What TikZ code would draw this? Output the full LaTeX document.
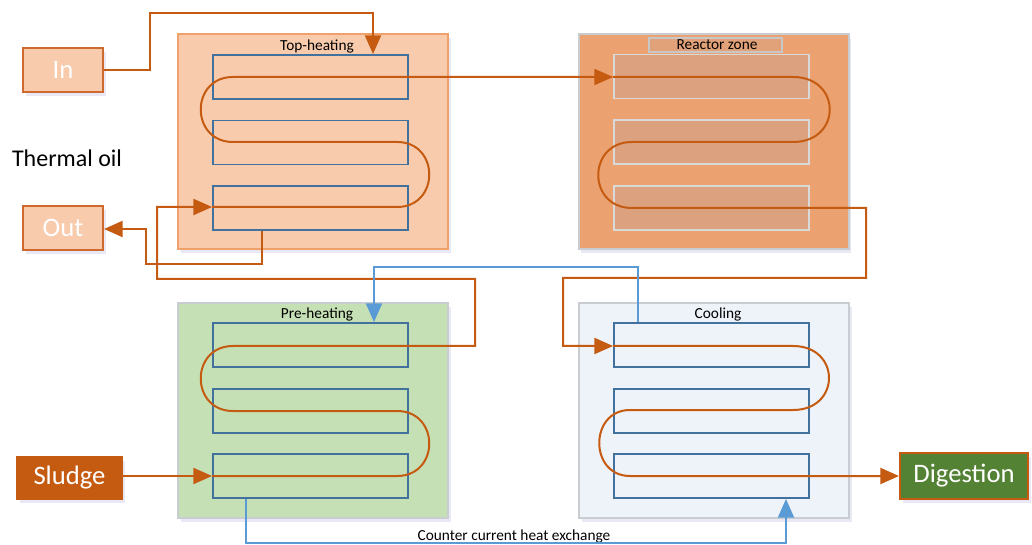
\documentclass[tikz,border=0pt]{standalone}
\usepackage{fontspec}
\setmainfont{Carlito}
\usetikzlibrary{arrows.meta,calc,shadows}

\definecolor{oilorange}{HTML}{C55A11}
\definecolor{flowblue}{HTML}{5B9BD5}
\definecolor{tubeblue}{HTML}{41719C}
\definecolor{peach}{HTML}{F8CBAD}
\definecolor{peachline}{HTML}{F0A06A}
\definecolor{ioline}{HTML}{CF6A2E}
\definecolor{reactorfill}{HTML}{EBA270}
\definecolor{reactortube}{HTML}{DCA27F}
\definecolor{greenfill}{HTML}{C5E0B4}
\definecolor{coolfill}{HTML}{EEF2F9}
\definecolor{framegray}{HTML}{C9CCD1}
\definecolor{digestgreen}{HTML}{548235}

\tikzset{
  zone/.style={draw=framegray, line width=1.5pt, minimum width={270*0.75pt}, minimum height={215*0.75pt},
    drop shadow={shadow xshift=2pt, shadow yshift=-3pt, opacity=0.12, fill=blue!40!gray}},
  tube/.style={draw=tubeblue, line width=1.4pt, minimum width={195*0.75pt}, minimum height={44*0.75pt}},
  rtube/.style={draw=black!15, fill=reactortube, line width=1.4pt, minimum width={195*0.75pt}, minimum height={44*0.75pt}},
  iobox/.style={draw=ioline, fill=peach, line width=1.5pt, text=white, font=\fontsize{20}{22}\selectfont,
    minimum width={80*0.75pt}, minimum height={44*0.75pt},
    drop shadow={shadow xshift=2pt, shadow yshift=-3pt, opacity=0.12, fill=blue!40!gray}},
  endbox/.style={line width=1.5pt, text=white, font=\fontsize{20}{22}\selectfont,
    drop shadow={shadow xshift=2pt, shadow yshift=-3pt, opacity=0.12, fill=blue!40!gray}},
  zlabel/.style={font=\fontsize{11.5}{13}\selectfont, inner sep=0pt},
  flow/.style={draw=oilorange, line width=1.5pt},
  cold/.style={draw=flowblue, line width=1.5pt},
  tip/.style={-{Triangle[length=14pt,width=12pt]}},
}

\begin{document}
\begin{tikzpicture}[x=0.75pt,y=-0.75pt]
\useasboundingbox (0,0) rectangle (1032,545);

% ---- process zones ----
\node[zone, draw=peachline, fill=peach] (top) at (313,141.5) {};
\node[zone, fill=reactorfill] (reac) at (713.5,141.5) {};
\node[zone, fill=greenfill] (pre) at (313,410.5) {};
\node[zone, fill=coolfill] (cool) at (714,410.5) {};

% ---- tube banks ----
\node[tube] (t1) at (310.5,77) {};
\node[tube] (t2) at (310.5,142.5) {};
\node[tube] (t3) at (310.5,208) {};
\node[rtube] (r1) at (711.5,76.5) {};
\node[rtube] (r2) at (711.5,142) {};
\node[rtube] (r3) at (711.5,208) {};
\node[tube] (p1) at (310.5,345) {};
\node[tube] (p2) at (310.5,411) {};
\node[tube] (p3) at (310.5,476) {};
\node[tube] (c1) at (711.5,345) {};
\node[tube] (c2) at (711.5,411) {};
\node[tube] (c3) at (711.5,476) {};

% ---- zone titles ----
\node[zlabel] (ltop) at (317,46) {Top-heating};
\node[draw=black!22, fill=reactortube!60!reactorfill, line width=1.2pt, minimum width={133*0.75pt}, minimum height={14*0.75pt}, inner sep=0pt] (lreacbox) at (715.5,45) {};
\node[zlabel] (lreac) at (717,45) {Reactor zone};
\node[zlabel] (lpre) at (317,314) {Pre-heating};
\node[zlabel] (lcool) at (718,314) {Cooling};
\node[zlabel] (lcc) at (514,536) {Counter current heat exchange};

% ---- inlets / outlets ----
\node[iobox] (in) at (63,70) {In};
\node[iobox] (out) at (63,228) {Out};
\node[font=\fontsize{18}{20}\selectfont, inner sep=0pt] (oil) at (67,158) {Thermal oil};
\node[endbox, fill=oilorange, draw=oilorange, minimum width={105*0.75pt}, minimum height={42*0.75pt}] (sludge) at (69.5,478) {Sludge};
\node[endbox, fill=digestgreen, draw=oilorange, minimum width={128*0.75pt}, minimum height={46*0.75pt}] (dig) at (964,476) {Digestion};

% ---- thermal oil circuit ----
\draw[flow, tip] (in.east) -- (150,70) -- (150,13) -- (373,13) -- (373,0 |- t1.north);
\draw[flow, tip] (262,0 |- t3.south) -- (262,264) -- (146,264) -- (146,229) -- (out.east |- 0,229);

% ---- sludge line: pre-heating ----
\draw[flow, tip] (sludge.east |- p3.west) -- (p3.west);
\draw[flow, tip] (p3.west) -- (397,476) .. controls +(43,0) and +(43,0) .. (397,411)
  -- (233,411) .. controls +(-43,0) and +(-43,0) .. (233,346)
  -- (475,346) -- (475,279) -- (157,279) -- (157,207) -- (t3.west |- 0,207);

% ---- top-heating ----
\draw[flow, tip] (t3.west |- 0,207) -- (397,207) .. controls +(43,0) and +(43,0) .. (397,142)
  -- (233,142) .. controls +(-43,0) and +(-43,0) .. (233,77)
  -- (r1.west |- 0,77);

% ---- reactor zone ----
\draw[flow, tip] (r1.west |- 0,77) -- (793,77) .. controls +(49,0) and +(49,0) .. (793,142)
  -- (632,142) .. controls +(-45,0) and +(-45,0) .. (632,208)
  -- (866,208) -- (866,278) -- (563,278) -- (563,346) -- (c1.west |- 0,346);

% ---- cooling ----
\draw[flow, tip] (c1.west |- 0,346) -- (793,346) .. controls +(48,0) and +(48,0) .. (793,410)
  -- (630,410) .. controls +(-41,0) and +(-41,0) .. (630,476) -- (dig.west |- 0,476);

% ---- counter current heat exchange loop ----
\draw[cold, tip] (246,0 |- p3.south) -- (246,543) -- (786,543) -- (786,0 |- c3.south);
\draw[cold, tip] (638,0 |- c1.north) -- (638,267) -- (374,267) -- (374,0 |- p1.north);
\end{tikzpicture}
\end{document}
